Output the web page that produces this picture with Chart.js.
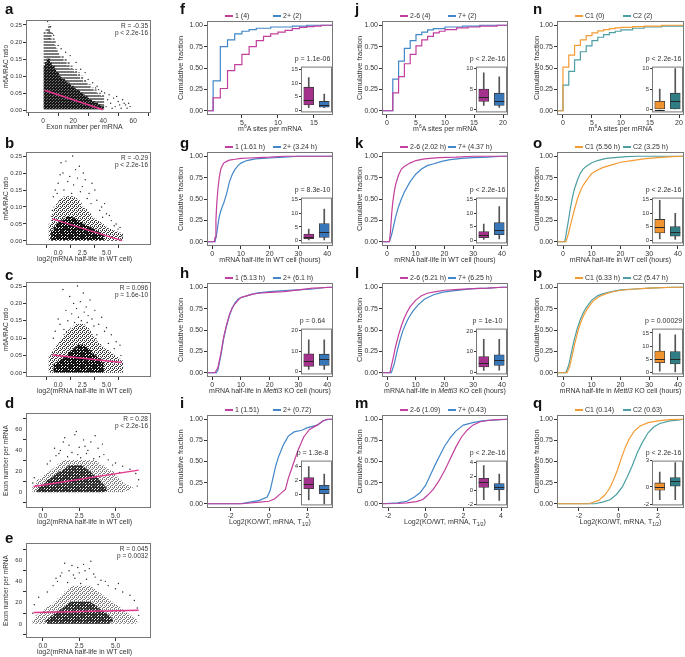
<!DOCTYPE html>
<html>
<head>
<meta charset="utf-8">
<title>m6A sites, exon number and mRNA half-life</title>
<script src="https://cdn.jsdelivr.net/npm/chart.js@4.4.1/dist/chart.umd.min.js"></script>
<style>
  body { margin: 0; width: 685px; height: 657px; position: relative; overflow: hidden; background: #fff;
         font-family: "Liberation Sans", Arial, sans-serif; color: #333; }
  canvas { position: absolute; }
  .lt { position: absolute; font-size: 15px; line-height: 15px; font-weight: bold; color: #111; }
  .tx { position: absolute; font-size: 7px; line-height: 8px; white-space: nowrap; color: #333; }
  .sm { position: absolute; font-size: 6.5px; line-height: 7px; white-space: nowrap; color: #333; text-align: right; }
  .key { position: absolute; width: 8px; height: 2px; }
  .tx sup, .tx sub { font-size: 5px; line-height: 0; }
</style>
</head>
<body>
<script>
// ---------- scatter panels (a-e) ----------
const aExon = [1,2,3,4,5,6,7,8,9,10,11,12,13,14,15,16,17,18,19,20,21,22,23,24,25,26,27,28,29,30,31,32,33,34,35,36,37,38,39,40];
const aTop  = [0.23,0.22,0.24,0.25,0.23,0.20,0.21,0.19,0.18,0.17,0.16,0.15,0.16,0.14,0.15,0.13,0.14,0.12,0.13,0.12,0.11,0.12,0.10,0.11,0.09,0.10,0.08,0.09,0.08,0.07,0.075,0.06,0.065,0.055,0.06,0.05,0.045,0.05,0.04,0.045];
const aCore = [0.13,0.14,0.15,0.15,0.14,0.13,0.13,0.12,0.11,0.11,0.10,0.095,0.09,0.09,0.085,0.08,0.08,0.075,0.07,0.07,0.065,0.06,0.06,0.055,0.05,0.05,0.045,0.04,0.04,0.035,0.03,0.03,0.025,0.025,0.02,0.02,0.015,0.015,0.01,0.01];
const aOutX = [3,4,5,4,7,10,12,15,18,22,25,28,30,33,36,41,43,44,45,47,48,50,52,53,55,57,58,42,46,49,51,54,56,39,37,35,2,6,8];
const aOutY = [0.26,0.21,0.245,0.23,0.22,0.19,0.18,0.17,0.16,0.14,0.12,0.11,0.09,0.08,0.07,0.05,0.03,0.045,0.02,0.035,0.01,0.025,0.005,0.03,0.015,0.02,0.01,0.01,0.005,0.04,0.015,0.02,0.005,0.055,0.06,0.065,0.235,0.225,0.2];
const aFitX = [1, 40];
const aFitY = [0.058, 0.001];

const hlBins = [-0.75,-0.5,-0.25,0,0.25,0.5,0.75,1,1.25,1.5,1.75,2,2.25,2.5,2.75,3,3.25,3.5,3.75,4,4.25,4.5,4.75,5,5.25,5.5,5.75,6,6.25,6.5];
const bTop  = [0.05,0.08,0.10,0.11,0.12,0.125,0.13,0.13,0.13,0.13,0.125,0.12,0.11,0.10,0.095,0.085,0.08,0.07,0.065,0.06,0.055,0.05,0.045,0.04,0.035,0.033,0.03,0.027,0.024,0.02];
const bCore = [0,0.03,0.04,0.05,0.055,0.06,0.065,0.07,0.07,0.068,0.065,0.06,0.055,0.05,0.047,0.043,0.04,0.036,0.032,0.028,0.024,0.02,0,0,0,0,0,0,0,0];
const bOutX = [0.3,0.8,1.5,2.2,0.5,1.2,2.8,3.5,0.0,1.8,2.5,3.2,4.0,4.5,5.0,5.5,6.0,6.4,-0.5,-0.3,1.0,2.0,3.8,4.8,0.2,2.6,1.6,3.0,4.3,5.3,-0.6,0.6,1.4,2.3,3.4,4.6,5.8,6.6,6.2,-0.1];
const bOutY = [0.23,0.235,0.25,0.22,0.2,0.19,0.18,0.17,0.17,0.21,0.16,0.14,0.12,0.1,0.08,0.06,0.05,0.04,0.13,0.15,0.175,0.185,0.15,0.11,0.195,0.2,0.165,0.125,0.09,0.075,0.09,0.15,0.14,0.145,0.11,0.07,0.045,0.015,0.035,0.14];
const bFitX = [-0.6, 6.6];
const bFitY = [0.065, 0.001];

const cTop  = [0.05,0.06,0.07,0.08,0.09,0.10,0.11,0.12,0.125,0.13,0.135,0.14,0.14,0.14,0.135,0.13,0.12,0.11,0.10,0.09,0.085,0.075,0.07,0.065,0.06,0.055,0.05,0.045,0.04,0.035];
const cCore = [0,0,0.025,0.03,0.035,0.04,0.045,0.05,0.06,0.065,0.07,0.075,0.08,0.08,0.075,0.07,0.065,0.055,0.05,0.045,0.04,0.03,0,0,0,0,0,0,0,0];
const cOutX = [0.5,1.2,2.0,2.6,3.3,1.6,2.9,3.8,0.8,4.5,1.9,2.3,3.5,5.0,5.5,6.0,6.4,-0.5,-0.3,0.2,4.2,2.7,1.4,3.1,4.8,5.8,-0.6,0.0,1.0,2.1,3.7,4.0,5.2,6.5,0.6,1.7,2.4,3.0];
const cOutY = [0.24,0.22,0.25,0.23,0.21,0.2,0.19,0.18,0.18,0.16,0.185,0.205,0.155,0.13,0.11,0.09,0.08,0.1,0.12,0.14,0.14,0.175,0.17,0.165,0.12,0.07,0.06,0.155,0.15,0.16,0.135,0.11,0.085,0.05,0.125,0.145,0.15,0.145];
const cFitX = [-0.6, 6.6];
const cFitY = [0.052, 0.030];

const dRow    = [1,2,3,4,5,6,7,8,9,10,11,12,13,14,15,16,17,18,19,20,21,22,23,24,25,26,27,28,29,30];
const dLo     = [-0.7,-0.7,-0.7,-0.7,-0.7,-0.6,-0.6,-0.5,-0.5,-0.4,-0.4,-0.3,-0.2,-0.1,0,0.1,0.2,0.3,0.4,0.5,0.6,0.7,0.8,0.9,1.0,1.0,1.1,1.2,1.3,1.4];
const dHi     = [5.6,5.8,6.0,6.2,6.1,5.9,5.8,5.6,5.5,5.5,5.4,5.3,5.2,5.2,5.1,5.0,5.0,4.9,4.9,4.8,4.6,4.5,4.4,4.3,4.2,4.0,3.9,3.8,3.7,3.6];
const dCoreLo = [-0.4,-0.4,-0.3,-0.3,-0.2,-0.1,0,0.1,0.2,0.25,0.3,0.4,0.5,0.6,0.7,0.8,0.9,1.0,1.1,1.3,1.4,1.5,1.6,1.7,1.8];
const dCoreHi = [4.2,4.4,4.4,4.3,4.3,4.2,4.2,4.1,4.0,4.0,3.9,3.8,3.8,3.7,3.6,3.5,3.4,3.4,3.3,3.2,3.1,3.0,2.9,2.8,2.7];
const dOutX = [1.5,2.2,2.8,3.3,1.8,2.5,3.8,1.2,2.0,3.0,4.2,0.9,1.7,2.6,3.5,4.5,0.5,5.0,5.5,6.0,6.4,6.6,6.5,-0.6,-0.7,2.3,3.6,4.1,0.8,1.4,2.9,3.1,1.1,2.4,3.9,0.3,4.8,5.3];
const dOutY = [52,55,50,48,45,43,42,40,38,37,36,35,34,33,32,31,30,28,25,22,18,12,6,14,9,58,54,46,42,48,44,40,37,36,34,27,26,19];
const dFitX = [-0.65, 6.6];
const dFitY = [5.7, 21.2];

const eRow    = [1,2,3,4,5,6,7,8,9,10,11,12,13,14,15,16,17,18,19,20,21,22,23,24,25,26,27,28,29,30,31,32,33,34,35];
const eLo     = [-0.7,-0.7,-0.7,-0.6,-0.6,-0.5,-0.5,-0.4,-0.3,-0.2,-0.1,0,0.1,0.2,0.3,0.4,0.5,0.6,0.7,0.8,0.9,1.0,1.0,1.1,1.2,1.3,1.3,1.4,1.5,1.5,1.6,1.7,1.8,1.8,1.9];
const eHi     = [6.4,6.5,6.5,6.4,6.3,6.2,6.1,6.0,5.9,5.8,5.7,5.6,5.5,5.4,5.3,5.2,5.1,5.0,4.9,4.8,4.7,4.6,4.5,4.4,4.3,4.2,4.1,4.0,3.9,3.8,3.7,3.6,3.5,3.4,3.3];
const eCoreLo = [0.3,0.2,0.2,0.3,0.4,0.5,0.6,0.7,0.8,0.9,1.0,1.1,1.2,1.3,1.4,1.5,1.6,1.7,1.8,1.9];
const eCoreHi = [4.6,4.7,4.8,4.8,4.7,4.7,4.6,4.5,4.4,4.3,4.2,4.1,4.0,3.9,3.8,3.7,3.6,3.5,3.4,3.3];
const eOutX = [1.5,2.0,2.8,3.2,1.8,2.5,3.5,1.2,2.2,3.0,4.0,1.0,1.7,2.6,3.8,4.5,0.7,5.0,5.5,6.0,6.3,0.3,-0.3,-0.6,3.3,2.4,2.9,1.3,3.6,2.1,4.3,0.9,5.2,6.5,6.6,-0.7];
const eOutY = [57,55,56,52,50,48,47,45,43,42,41,40,39,38,37,36,36,33,30,27,22,30,25,18,59,53,50,48,44,46,40,43,38,15,8,10];
const eFitX = [-0.65, 6.6];
const eFitY = [10.6, 12.9];

// ---------- cumulative fraction curves (f-q) ----------
const f1X = [0.15,1,2,3,4,5,6,7,8,9,10,11,12,13,14,15,16,17.65];
const f1Y = [0,0.15,0.26,0.47,0.54,0.66,0.75,0.82,0.87,0.90,0.92,0.94,0.96,0.975,0.985,0.99,1,1];
const f2X = [0.15,1,2,3,4,5,6,7,9,12,14,17.65];
const f2Y = [0,0.35,0.75,0.83,0.90,0.93,0.95,0.965,0.98,0.99,1,1];

const g1X = [-1.8,0.8,1.0,1.3,1.6,2.0,2.5,3.0,3.5,4,5,6,8,10,13,16,20,25,42];
const g1Y = [0,0,0.05,0.25,0.45,0.62,0.76,0.85,0.89,0.92,0.94,0.955,0.965,0.975,0.98,0.985,0.99,1,1];
const g2X = [-1.8,1.0,1.5,2.0,2.5,3.0,3.5,4,5,6,7,8,9,10,12,15,20,25,30,42];
const g2Y = [0,0,0.08,0.2,0.3,0.36,0.41,0.45,0.56,0.7,0.79,0.85,0.89,0.92,0.95,0.97,0.98,0.99,1,1];

const h1X = [-1.8,1.0,2,3,4,5,6,7,8,9,10,12,14,16,20,25,30,35,42];
const h1Y = [0,0,0.06,0.22,0.42,0.56,0.68,0.76,0.81,0.85,0.88,0.9,0.92,0.93,0.94,0.95,0.97,0.99,1];
const h2X = [-1.8,1.5,2,3,4,5,6,7,8,9,10,12,14,16,20,25,30,35,40,42];
const h2Y = [0,0,0.03,0.2,0.4,0.55,0.67,0.76,0.82,0.86,0.88,0.9,0.92,0.935,0.95,0.96,0.97,0.98,1,1];

const i1X = [-3.22,-1.4,-0.5,0,0.3,0.6,0.85,1.0,1.15,1.3,1.5,1.8,2.1,2.5,2.8,3.0,3.32];
const i1Y = [0,0,0.02,0.03,0.06,0.12,0.17,0.3,0.4,0.5,0.63,0.79,0.88,0.93,0.98,1,1];
const i2X = [-3.22,-1.5,-1.0,-0.5,-0.1,0.05,0.2,0.35,0.5,0.75,1.0,1.3,1.7,2.0,2.5,2.8,3.1,3.32];
const i2Y = [0,0,0.02,0.04,0.08,0.15,0.3,0.45,0.56,0.7,0.8,0.85,0.87,0.9,0.93,0.98,1,1];

const j1X = [-0.86,1,2,3,4,5,6,7,8,9,10,12,14,16,19,20.86];
const j1Y = [0,0.21,0.40,0.55,0.66,0.76,0.83,0.87,0.91,0.93,0.95,0.97,0.98,0.99,1,1];
const j2X = [-0.86,1,2,3,4,5,6,7,8,10,13,16,20.86];
const j2Y = [0,0.37,0.58,0.73,0.82,0.89,0.92,0.945,0.96,0.98,0.99,1,1];

const k1X = [-1.75,0.8,1.2,1.6,2.0,2.5,3,4,5,6,8,10,13,18,24,30,42.1];
const k1Y = [0,0,0.12,0.32,0.46,0.58,0.67,0.78,0.85,0.88,0.92,0.95,0.97,0.985,0.99,1,1];
const k2X = [-1.75,0.8,1.5,2,3,4,5,6,8,10,12,14,16,19,22,26,30,35,40,42.1];
const k2Y = [0,0,0.07,0.14,0.29,0.41,0.5,0.58,0.7,0.79,0.85,0.89,0.91,0.94,0.96,0.975,0.985,0.99,1,1];

const l1X = [-1.75,1.0,2,3,4,5,6,7,8,10,12,14,17,20,25,30,35,40,42.1];
const l1Y = [0,0,0.15,0.31,0.44,0.55,0.64,0.71,0.77,0.85,0.9,0.93,0.95,0.965,0.975,0.985,0.99,1,1];
const l2X = [-1.75,1.5,2.5,3.5,4.5,5.5,6.5,7.5,9,11,13,16,19,22,26,30,35,40,42.1];
const l2Y = [0,0,0.1,0.25,0.38,0.49,0.57,0.64,0.72,0.8,0.86,0.91,0.94,0.955,0.97,0.985,0.99,1,1];

const m1X = [-2.32,-1.5,-1.0,-0.5,-0.15,0.1,0.4,0.7,1.0,1.3,1.6,1.9,2.2,2.5,2.9,3.3,3.8,4.37];
const m1Y = [0,0.003,0.01,0.025,0.05,0.1,0.17,0.27,0.39,0.53,0.67,0.79,0.87,0.93,0.97,0.985,0.995,1];
const m2X = [-2.32,-1.5,-1.0,-0.6,-0.3,0,0.25,0.5,0.75,1.0,1.3,1.6,2.0,2.5,3.0,3.5,4.0,4.37];
const m2Y = [0,0.01,0.03,0.08,0.13,0.22,0.34,0.46,0.57,0.68,0.78,0.86,0.93,0.96,0.98,0.99,0.995,1];

const n1X = [-1.03,0,1,2,3,4,5,6,7,8,9,10,12,14,17,20.86];
const n1Y = [0,0.51,0.65,0.765,0.83,0.88,0.91,0.935,0.95,0.96,0.97,0.975,0.985,0.99,1,1];
const n2X = [-1.03,0,1,2,3,4,5,6,7,8,9,10,12,14,17,20.86];
const n2Y = [0,0.30,0.46,0.595,0.69,0.76,0.82,0.86,0.89,0.915,0.93,0.945,0.965,0.98,0.99,1];

const o1X = [-2.09,1.0,1.5,2,3,4,5,6,7,8,10,12,14,17,20,24,28,33,38,42.1];
const o1Y = [0,0,0.05,0.11,0.25,0.38,0.5,0.59,0.66,0.71,0.8,0.84,0.87,0.9,0.93,0.95,0.97,0.985,0.995,1];
const o2X = [-2.09,0.6,1.0,1.5,2,2.5,3,3.5,4,5,6,7,8,10,12,15,18,22,26,42.1];
const o2Y = [0,0,0.07,0.17,0.27,0.38,0.47,0.55,0.62,0.72,0.8,0.85,0.88,0.925,0.95,0.975,0.985,0.995,1,1];

const p1X = [-2.09,1.4,2.3,3.3,4.3,5.3,6.3,7.3,8.5,10.5,12.5,14.5,17,20,25,30,38,42.1];
const p1Y = [0,0,0.07,0.22,0.37,0.5,0.6,0.68,0.75,0.84,0.89,0.92,0.945,0.965,0.98,0.99,1,1];
const p2X = [-2.09,1.0,2,3,4,5,6,7,8,10,12,14,17,20,25,30,38,42.1];
const p2Y = [0,0,0.09,0.25,0.4,0.52,0.62,0.7,0.76,0.85,0.9,0.925,0.95,0.97,0.98,0.99,1,1];

const q1X = [-3.11,-1.5,-1.0,-0.7,-0.45,-0.25,-0.05,0.15,0.35,0.55,0.8,1.1,1.5,2.0,2.6,3.32];
const q1Y = [0,0,0.04,0.1,0.18,0.28,0.4,0.54,0.67,0.77,0.86,0.92,0.96,0.98,0.995,1];
const q2X = [-3.11,-1.2,-0.8,-0.4,-0.1,0.2,0.45,0.7,0.95,1.2,1.5,1.8,2.1,2.6,3.0,3.32];
const q2Y = [0,0,0.02,0.05,0.11,0.2,0.32,0.45,0.6,0.72,0.84,0.91,0.95,0.98,0.99,1];

// ---------- inset boxplots: [min, q1, median, q3, max] ----------
const fBoxA = [1, 2, 4, 8.5, 12],        fBoxB = [1, 1.2, 2, 3.3, 6];
const gBoxA = [0.3, 0.7, 1.5, 2.4, 4.2], gBoxB = [0.3, 1.2, 3.1, 6.2, 11.5];
const hBoxA = [1, 2.5, 5, 8.7, 15.5],    hBoxB = [1, 3, 6, 8.5, 15.5];
const iBoxA = [-0.8, 0.8, 1.5, 2.4, 4.0], iBoxB = [-1.4, 0.1, 0.8, 1.3, 2.9];
const jBoxA = [1, 2, 3, 5, 9],           jBoxB = [0.5, 1, 2, 4, 8];
const kBoxA = [0.3, 0.9, 2, 3.2, 6],     kBoxB = [0.5, 2, 3.8, 6.5, 12.5];
const lBoxA = [0.8, 2.5, 4.7, 7.6, 16],  lBoxB = [1, 3.3, 5.8, 8.5, 16];
const mBoxA = [-1.35, 0.4, 1.2, 1.7, 3.5], mBoxB = [-1.45, 0, 0.5, 0.95, 2.3];
const nBoxA = [0, 0, 0, 2, 5],           nBoxB = [0, 0, 2, 4, 10];
const oBoxA = [0.5, 2.7, 4.8, 7.7, 14.8], oBoxB = [0.3, 1.5, 2.9, 5.0, 10];
const pBoxA = [0.6, 3.8, 5.3, 8.2, 14.6], pBoxB = [0.3, 3.3, 5.0, 8.0, 14.3];
const qBoxA = [-1.46, -0.38, 0.05, 0.46, 1.7], qBoxB = [-1.46, 0.08, 0.7, 1.08, 2.77];

const PINK = '#c23f9d', BLUE = '#4387c8', ORANGE = '#f39b35', TEAL = '#4d9fa3';
const PINK_BOX = '#a4318b', BLUE_BOX = '#3777b9', ORANGE_BOX = '#ef9431', TEAL_BOX = '#2f7e85';
const FIT = '#e6378e';

Chart.defaults.font.family = '"Liberation Sans", Arial, sans-serif';
Chart.defaults.font.size = 7;
Chart.defaults.color = '#333';
Chart.defaults.animation = false;
Chart.defaults.responsive = false;
Chart.defaults.events = [];
Chart.defaults.plugins.legend.display = false;
Chart.defaults.plugins.tooltip.enabled = false;

function addCanvas(x, y, w, h) {
    const c = document.createElement('canvas');
    c.width = w;
    c.height = h;
    c.style.left = x + 'px';
    c.style.top = y + 'px';
    document.body.appendChild(c);
    return c;
}

function addText(html, x, y, cls, extra) {
    const d = document.createElement('div');
    d.className = cls || 'tx';
    d.innerHTML = html;
    d.style.left = x + 'px';
    d.style.top = y + 'px';
    if (extra) Object.assign(d.style, extra);
    document.body.appendChild(d);
    return d;
}

// dotted fill so the point clouds read as speckles, not solid blocks
function stipple(color, size, dots) {
    const c = document.createElement('canvas');
    c.width = size;
    c.height = size;
    const ctx = c.getContext('2d');
    ctx.fillStyle = color;
    dots.forEach(d => ctx.fillRect(d[0], d[1], 1, 1));
    return ctx.createPattern(c, 'repeat');
}
const SPARSE = [5, [[0,0],[2,1],[4,3],[1,4],[3,2]]];
const MEDIUM = [4, [[0,0],[2,0],[1,1],[3,2],[0,2],[2,3]]];
const DENSE = [3, [[0,0],[1,0],[2,1],[0,1],[1,2],[2,2],[0,2]]];
const DASHED = [3, [[0,0],[1,0],[2,0],[0,1],[1,1],[2,1]]];

function axis(min, max, ticks, fmt, size, extra) {
    return Object.assign({
        type: 'linear', min: min, max: max,
        afterBuildTicks: s => { s.ticks = ticks.map(v => ({ value: v })); },
        ticks: { callback: fmt, font: { size: size }, color: '#333', padding: 1, autoSkip: false, maxRotation: 0 },
        grid: { drawOnChartArea: false, drawTicks: true, tickLength: 3, color: '#333', lineWidth: 1 },
        border: { display: false }
    }, extra);
}

// grey panel frame, optional white panel fill (insets)
const framePlugin = {
    id: 'frame',
    beforeDatasetsDraw(chart, args, opts) {
        if (!opts.fill) return;
        const a = chart.chartArea, ctx = chart.ctx;
        ctx.save();
        ctx.fillStyle = opts.fill;
        ctx.fillRect(a.left, a.top, a.right - a.left, a.bottom - a.top);
        ctx.restore();
    },
    afterDraw(chart, args, opts) {
        const a = chart.chartArea, ctx = chart.ctx;
        ctx.save();
        ctx.strokeStyle = opts.color || '#666';
        ctx.lineWidth = 1;
        ctx.strokeRect(a.left + 0.5, a.top + 0.5, a.right - a.left - 1, a.bottom - a.top - 1);
        ctx.restore();
    }
};

const medianPlugin = {
    id: 'median',
    afterDatasetsDraw(chart) {
        const ds = chart.data.datasets[0], meta = chart.getDatasetMeta(0), y = chart.scales.y, ctx = chart.ctx;
        ctx.save();
        ctx.strokeStyle = '#262626';
        ctx.lineWidth = 1;
        meta.data.forEach((bar, i) => {
            const py = Math.round(y.getPixelForValue(ds.medians[i])) + 0.5;
            ctx.beginPath();
            ctx.moveTo(bar.x - bar.width / 2, py);
            ctx.lineTo(bar.x + bar.width / 2, py);
            ctx.stroke();
        });
        ctx.restore();
    }
};

const pairs = (xs, ys) => xs.map((x, i) => ({ x: x, y: ys[i] }));

// ---------- scatter panels ----------
const SC = { l: 26, r: 151 };
const halfLifeTicks = [0, 2.5, 5];
const ratioTicks = [0, 0.05, 0.1, 0.15, 0.2, 0.25];
const exonTicks = [0, 20, 40, 60];
const scat = [
    { id: 'a', t: 20, b: 113, x: [-1, 61.5], xt: [0, 20, 40, 60], xf: v => String(v), y: [-0.0088, 0.2647], yt: ratioTicks, yf: v => v.toFixed(2),
      yTitle: 'm6A/RAC ratio', xTitle: 'Exon number per mRNA', horiz: false, pos: aExon, lo1: 0.002, hi1: aTop, lo2: 0.003, hi2: aCore, th: 1.3,
      f1: ['#777', DASHED], f2: ['#151515', DENSE], out: [aOutX, aOutY], fit: [aFitX, aFitY], r: 'R = -0.35', p: 'p < 2.2e-16', letterTop: 1 },
    { id: 'b', t: 152, b: 245, x: [-1.17, 7.45], xt: halfLifeTicks, xf: v => v.toFixed(1), y: [-0.0118, 0.2618], yt: ratioTicks, yf: v => v.toFixed(2),
      yTitle: 'm6A/RAC ratio', xTitle: 'log2(mRNA half-life in WT cell)', horiz: false, pos: hlBins, lo1: 0.002, hi1: bTop, lo2: 0.004, hi2: bCore, th: 3.7,
      f1: ['#3a3a3a', MEDIUM], f2: ['#111', DENSE], out: [bOutX, bOutY], fit: [bFitX, bFitY], r: 'R = -0.29', p: 'p < 2.2e-16', letterTop: 135 },
    { id: 'c', t: 282, b: 377, x: [-1.17, 7.45], xt: halfLifeTicks, xf: v => v.toFixed(1), y: [-0.0115, 0.2615], yt: ratioTicks, yf: v => v.toFixed(2),
      yTitle: 'm6A/RAC ratio', xTitle: 'log2(mRNA half-life in WT cell)', horiz: false, pos: hlBins, lo1: 0.002, hi1: cTop, lo2: 0.003, hi2: cCore, th: 3.7,
      f1: ['#3a3a3a', MEDIUM], f2: ['#111', DENSE], out: [cOutX, cOutY], fit: [cFitX, cFitY], r: 'R = 0.096', p: 'p = 1.6e-10', letterTop: 267 },
    { id: 'd', t: 413, b: 508, x: [-1.17, 7.45], xt: halfLifeTicks, xf: v => v.toFixed(1), y: [-3.57, 64.3], yt: exonTicks, yf: v => String(v),
      yTitle: 'Exon number per mRNA', xTitle: 'log2(mRNA half-life in WT cell)', horiz: true, pos: dRow, lo1: dLo, hi1: dHi, lo2: dCoreLo, hi2: dCoreHi, th: 1,
      f1: ['#7a7a7a', MEDIUM], f2: ['#2a2a2a', DENSE], out: [dOutX, dOutY], fit: [dFitX, dFitY], r: 'R = 0.28', p: 'p < 2.2e-16', letterTop: 395 },
    { id: 'e', t: 543, b: 638, x: [-1.17, 7.45], xt: halfLifeTicks, xf: v => v.toFixed(1), y: [-2.12, 64.94], yt: exonTicks, yf: v => String(v),
      yTitle: 'Exon number per mRNA', xTitle: 'log2(mRNA half-life in WT cell)', horiz: true, pos: eRow, lo1: eLo, hi1: eHi, lo2: eCoreLo, hi2: eCoreHi, th: 1,
      f1: ['#7a7a7a', MEDIUM], f2: ['#2a2a2a', DENSE], out: [eOutX, eOutY], fit: [eFitX, eFitY], r: 'R = 0.045', p: 'p = 0.0032', letterTop: 530 }
];

function strips(p, lo, hi) {
    const pts = [];
    hi.forEach((h, i) => {
        if (!h) return;
        const l = Array.isArray(lo) ? lo[i] : lo;
        pts.push(p.horiz ? { y: p.pos[i], x: [l, h] } : { x: p.pos[i], y: [l, h] });
    });
    return pts;
}

function scatterPanel(p) {
    const L = 26, T = 6, R = 6, B = 12;
    const cv = addCanvas(SC.l - L, p.t - T, SC.r - SC.l + L + R, p.b - p.t + T + B);
    const bar = (data, f, order) => ({
        type: 'bar', indexAxis: p.horiz ? 'y' : 'x', data: data, backgroundColor: stipple(f[0], f[1][0], f[1][1]),
        barThickness: p.th, grouped: false, borderWidth: 0, order: order
    });
    new Chart(cv, {
        type: 'scatter',
        data: { datasets: [
            { type: 'line', data: pairs(p.fit[0], p.fit[1]), borderColor: FIT, borderWidth: 1.5, pointRadius: 0, order: 0 },
            { type: 'scatter', data: pairs(p.out[0], p.out[1]), backgroundColor: '#222', pointRadius: 0.7, borderWidth: 0, order: 1 },
            bar(strips(p, p.lo2, p.hi2), p.f2, 2),
            bar(strips(p, p.lo1, p.hi1), p.f1, 3)
        ] },
        options: {
            layout: { padding: { left: 0, top: T, right: R, bottom: 0 } },
            plugins: { frame: { color: '#777' } },
            scales: {
                x: axis(p.x[0], p.x[1], p.xt, p.xf, 6.5, { afterFit: s => { s.height = B; } }),
                y: axis(p.y[0], p.y[1], p.yt, p.yf, 6, {
                    afterFit: s => { s.width = L; },
                    title: { display: true, text: p.yTitle, font: { size: 6.5 }, color: '#333', padding: { top: 2, bottom: 0 } }
                })
            }
        },
        plugins: [framePlugin]
    });
    addText(p.id, 5, p.letterTop, 'lt');
    addText(p.xTitle, SC.l - 4, p.b + 9.5, 'tx', { width: (SC.r - SC.l) + 'px', textAlign: 'center' });
    addText(p.r + '<br>' + p.p, SC.r - 60, p.t + 2, 'sm', { width: '57px' });
}

// ---------- cumulative fraction panels ----------
const colBox = [{ l: 207, r: 333, yl: 181, lx: 180 }, { l: 382, r: 508, yl: 360, lx: 355 }, { l: 557, r: 684, yl: 537, lx: 533 }];
const rowBox = [{ t: 21, b: 115, leg: 16, lt: 1 }, { t: 152, b: 246, leg: 147, lt: 135 }, { t: 283, b: 377, leg: 278, lt: 265 }, { t: 415, b: 508, leg: 410, lt: 395 }];
const rowTitle = ['m<sup>6</sup>A sites per mRNA', 'mRNA half-life in WT cell (hours)',
                  'mRNA half-life in <i>Mettl3</i> KO cell (hours)', 'Log2(KO/WT, mRNA, T<sub>1/2</sub>)'];
const hoursTicks = [0, 10, 20, 30, 40];
const sitesTicks = [0, 5, 10, 15, 20];

const ecdf = [
    { id: 'f', col: 0, row: 0, x: [0.15, 17.65], xt: [5, 10, 15], s1: [f1X, f1Y], s2: [f2X, f2Y], step: true, leg: ['1 (4)', '2+ (2)'], bx: [fBoxA, fBoxB], by: [-0.7, 16], bt: [0, 5, 10, 15], p: 'p = 1.1e-06' },
    { id: 'g', col: 0, row: 1, x: [-1.8, 42], xt: hoursTicks, s1: [g1X, g1Y], s2: [g2X, g2Y], leg: ['1 (1.61 h)', '2+ (3.24 h)'], bx: [gBoxA, gBoxB], by: [-1, 15.7], bt: [0, 5, 10, 15], p: 'p = 8.3e-10' },
    { id: 'h', col: 0, row: 2, x: [-1.8, 42], xt: hoursTicks, s1: [h1X, h1Y], s2: [h2X, h2Y], leg: ['1 (5.13 h)', '2+ (6.1 h)'], bx: [hBoxA, hBoxB], by: [-1.4, 21], bt: [0, 10, 20], p: 'p = 0.64' },
    { id: 'i', col: 0, row: 3, x: [-3.22, 3.32], xt: [-2, 0, 2], s1: [i1X, i1Y], s2: [i2X, i2Y], leg: ['1 (1.51)', '2+ (0.72)'], bx: [iBoxA, iBoxB], by: [-1.6, 4.85], bt: [0, 2, 4], p: 'p = 1.3e-8' },
    { id: 'j', col: 1, row: 0, x: [-0.86, 20.86], xt: sitesTicks, s1: [j1X, j1Y], s2: [j2X, j2Y], step: true, leg: ['2-6 (4)', '7+ (2)'], bx: [jBoxA, jBoxB], by: [-0.7, 10.5], bt: [0, 5, 10], p: 'p < 2.2e-16' },
    { id: 'k', col: 1, row: 1, x: [-1.75, 42.1], xt: hoursTicks, s1: [k1X, k1Y], s2: [k2X, k2Y], leg: ['2-6 (2.02 h)', '7+ (4.37 h)'], bx: [kBoxA, kBoxB], by: [-1.2, 15.8], bt: [0, 5, 10, 15], p: 'p < 2.2e-16' },
    { id: 'l', col: 1, row: 2, x: [-1.75, 42.1], xt: hoursTicks, s1: [l1X, l1Y], s2: [l2X, l2Y], leg: ['2-6 (5.21 h)', '7+ (6.25 h)'], bx: [lBoxA, lBoxB], by: [-1.1, 21.3], bt: [0, 10, 20], p: 'p = 1e-10' },
    { id: 'm', col: 1, row: 3, x: [-2.32, 4.37], xt: [-2, 0, 2, 4], s1: [m1X, m1Y], s2: [m2X, m2Y], leg: ['2-6 (1.09)', '7+ (0.43)'], bx: [mBoxA, mBoxB], by: [-2.15, 4.2], bt: [-2, 0, 2, 4], p: 'p < 2.2e-16' },
    { id: 'n', col: 2, row: 0, x: [-1.03, 20.86], xt: sitesTicks, s1: [n1X, n1Y], s2: [n2X, n2Y], step: true, leg: ['C1 (0)', 'C2 (2)'], bx: [nBoxA, nBoxB], by: [-0.7, 10.5], bt: [0, 5, 10], p: 'p < 2.2e-16' },
    { id: 'o', col: 2, row: 1, x: [-2.09, 42.1], xt: hoursTicks, s1: [o1X, o1Y], s2: [o2X, o2Y], leg: ['C1 (5.56 h)', 'C2 (3.25 h)'], bx: [oBoxA, oBoxB], by: [-1.2, 15.8], bt: [0, 5, 10, 15], p: 'p < 2.2e-16' },
    { id: 'p', col: 2, row: 2, x: [-2.09, 42.1], xt: hoursTicks, s1: [p1X, p1Y], s2: [p2X, p2Y], leg: ['C1 (6.33 h)', 'C2 (5.47 h)'], bx: [pBoxA, pBoxB], by: [-0.6, 16.6], bt: [0, 5, 10, 15], p: 'p = 0.00029' },
    { id: 'q', col: 2, row: 3, x: [-3.11, 3.32], xt: [-2, 0, 2], s1: [q1X, q1Y], s2: [q2X, q2Y], leg: ['C1 (0.14)', 'C2 (0.63)'], bx: [qBoxA, qBoxB], by: [-2.1, 3.0], bt: [-2, 0, 3], p: 'p < 2.2e-16' }
];

function ecdfPanel(p) {
    const cb = colBox[p.col], rb = rowBox[p.row];
    const lineC = p.col === 2 ? [ORANGE, TEAL] : [PINK, BLUE];
    const boxC = p.col === 2 ? [ORANGE_BOX, TEAL_BOX] : [PINK_BOX, BLUE_BOX];
    const L = 32, T = 6, R = 6, B = 12;
    const left = cb.l - L;
    const cv = addCanvas(left, rb.t - T, cb.r - cb.l + L + R, rb.b - rb.t + T + B);
    const curve = (s, color) => ({
        data: pairs(s[0], s[1]), borderColor: color, borderWidth: 1.2, pointRadius: 0,
        stepped: p.step ? 'before' : false, tension: 0, fill: false
    });
    new Chart(cv, {
        type: 'line',
        data: { datasets: [curve(p.s1, lineC[0]), curve(p.s2, lineC[1])] },
        options: {
            layout: { padding: { left: 0, top: T, right: R, bottom: 0 } },
            plugins: { frame: { color: '#777' } },
            scales: {
                x: axis(p.x[0], p.x[1], p.xt, v => String(v), 7, { afterFit: s => { s.height = B; } }),
                y: axis(-0.05, 1.05, [0, 0.25, 0.5, 0.75, 1], v => v.toFixed(2), 7, {
                    afterFit: s => { s.width = L; },
                    title: { display: true, text: 'Cumulative fraction', font: { size: 7.5 }, color: '#333',
                             padding: { top: cb.yl - left - 4.5, bottom: 0 } }
                })
            }
        },
        plugins: [framePlugin]
    });

    // inset boxplot
    const r = { l: cb.r - 32, r: cb.r - 1, t: rb.t + 45, b: rb.b - 2 };
    const IL = 12, IP = 4;
    const icv = addCanvas(r.l - IL, r.t - IP, r.r - r.l + IL + 1, r.b - r.t + 2 * IP);
    const [g1, g2] = p.bx;
    new Chart(icv, {
        type: 'bar',
        data: {
            labels: ['A', 'B'],
            datasets: [
                { data: [[g1[1], g1[3]], [g2[1], g2[3]]], medians: [g1[2], g2[2]], backgroundColor: boxC,
                  borderColor: '#3a3a3a', borderWidth: 0.8, borderSkipped: false, barThickness: 10, grouped: false, order: 0 },
                { data: [[g1[0], g1[4]], [g2[0], g2[4]]], backgroundColor: '#555', barThickness: 1, grouped: false, order: 1 }
            ]
        },
        options: {
            layout: { padding: { left: 0, top: IP, right: 1, bottom: IP } },
            plugins: { frame: { color: '#777', fill: '#fff' } },
            scales: {
                x: { display: false },
                y: axis(p.by[0], p.by[1], p.bt, v => String(v), 6, {
                    afterFit: s => { s.width = IL; },
                    grid: { drawOnChartArea: false, drawTicks: true, tickLength: 2, color: '#333' }
                })
            }
        },
        plugins: [framePlugin, medianPlugin]
    });
    addText(p.p, (r.l + r.r) / 2 - 25, r.t - 11, 'tx', { width: '42px', textAlign: 'center' });

    // legend, letter, x title
    const k1 = cb.l + 18, k2 = cb.l + 66;
    const key = (x, c) => { const d = addText('', x, rb.leg - 1, 'key'); d.style.background = c; };
    key(k1, lineC[0]);
    key(k2, lineC[1]);
    addText(p.leg[0], k1 + 10, rb.leg - 4);
    addText(p.leg[1], k2 + 10, rb.leg - 4);
    addText(p.id, cb.lx, rb.lt, 'lt');
    addText(rowTitle[p.row], cb.l, rb.b + 9.5, 'tx', { width: (cb.r - cb.l) + 'px', textAlign: 'center' });
}

scat.forEach(scatterPanel);
ecdf.forEach(ecdfPanel);
</script>
</body>
</html>
